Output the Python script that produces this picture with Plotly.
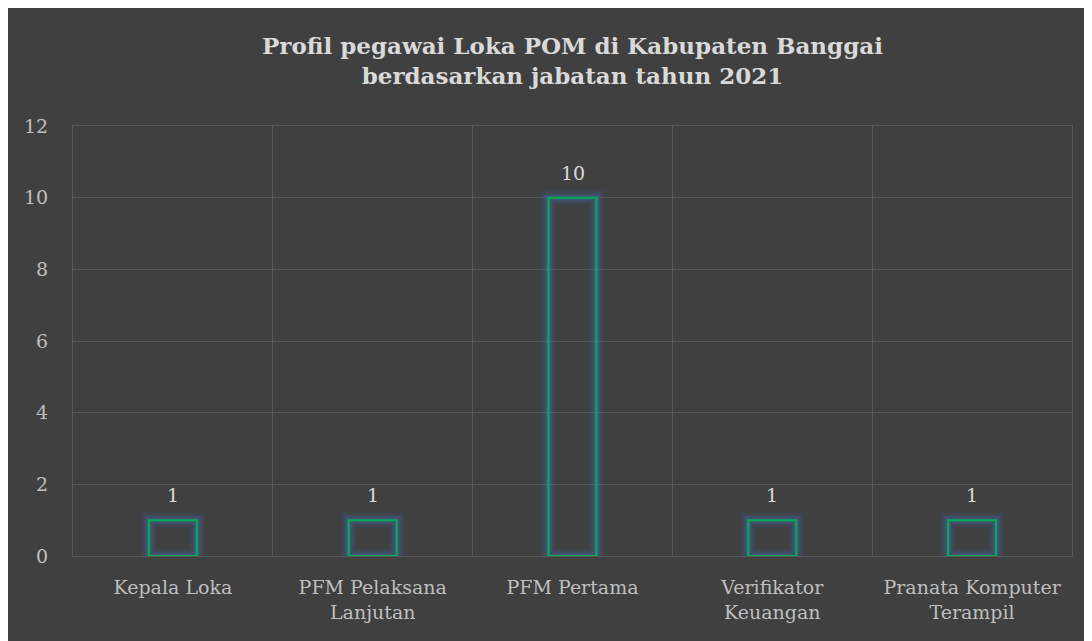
import plotly.graph_objects as go

categories = ["Kepala Loka", "PFM Pelaksana<br>Lanjutan", "PFM Pertama",
              "Verifikator<br>Keuangan", "Pranata Komputer<br>Terampil"]
values = [1, 1, 10, 1, 1]
y_ticks = [0, 2, 4, 6, 8, 10, 12]
title_text = "<b>Profil pegawai Loka POM di Kabupaten Banggai<br>berdasarkan jabatan tahun 2021</b>"

# page body has an 8px margin; figure fills the rest of the window
W, H = 1084, 633
ml, mr, mt, mb = 65, 20, 118, 85
ph = H - mt - mb

FONT = "DejaVu Serif"
BG = "#404040"
GRID = "#575757"

fig = go.Figure()

# soft blue glow layers
for lw, a in [(16, 0.07), (12, 0.10), (8, 0.15), (5, 0.22)]:
    fig.add_trace(go.Bar(
        x=categories, y=values, width=0.24,
        marker=dict(color="rgba(0,0,0,0)", line=dict(color=f"rgba(68,114,196,{a})", width=lw)),
        hoverinfo="skip", showlegend=False,
    ))

fig.add_trace(go.Bar(
    x=categories, y=values, width=0.24,
    marker=dict(color="rgba(0,0,0,0)", line=dict(color="#00b050", width=2)),
    showlegend=False,
))

for c, v in zip(categories, values):
    fig.add_annotation(x=c, y=v, text=str(v), showarrow=False, yanchor="bottom",
                       yshift=12, font=dict(family=FONT, size=19, color="#d9d9d9"))

# title block (centre of two lines ~53px below figure top)
fig.add_annotation(x=0.5, xref="paper", y=(H - mb - 53) / ph, yref="paper",
                   xanchor="center", yanchor="middle", showarrow=False,
                   text=title_text, font=dict(family=FONT, size=23, color="#d9d9d9"))

fig.update_layout(
    width=W, height=H,
    margin=dict(l=ml, r=mr, t=mt, b=mb),
    paper_bgcolor=BG, plot_bgcolor=BG,
    barmode="overlay", bargap=0.76,
    font=dict(family=FONT, color="#bfbfbf"),
    xaxis=dict(tickson="boundaries", showgrid=True, gridcolor=GRID, gridwidth=1,
               ticks="", showline=True, mirror=True, linecolor=GRID, linewidth=1,
               ticklabelstandoff=14,
               tickfont=dict(family=FONT, size=19, color="#bfbfbf"),
               zeroline=False),
    yaxis=dict(range=[0, 12], tickvals=y_ticks, showgrid=True, gridcolor=GRID,
               gridwidth=1, zeroline=False, ticks="", ticklabelstandoff=20,
               tickfont=dict(family=FONT, size=19, color="#bfbfbf"),
               showline=True, mirror=True, linecolor=GRID, linewidth=1),
)

fig.write_html("out.html")
